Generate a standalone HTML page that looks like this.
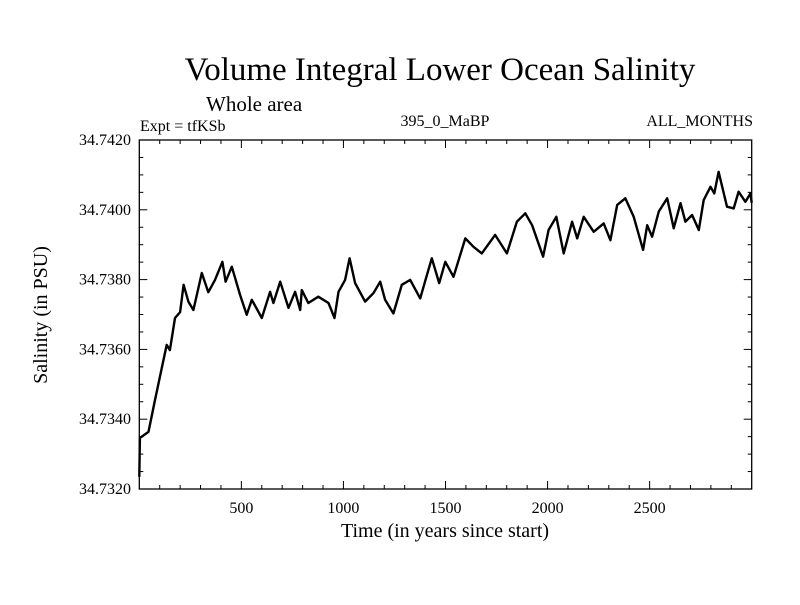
<!DOCTYPE html>
<html><head><meta charset="utf-8"><style>
body{margin:0;background:#fff}
svg text{font-family:"Liberation Serif",serif;fill:#000}
</style></head><body>
<svg id="chart" width="800" height="600" xmlns="http://www.w3.org/2000/svg">
<rect width="800" height="600" fill="#fff"/>
<text x="440" y="80" font-size="33" text-anchor="middle">Volume Integral Lower Ocean Salinity</text>
<text x="206" y="111" font-size="21">Whole area</text>
<text x="140" y="131" font-size="16">Expt = tfKSb</text>
<text x="445" y="126" font-size="16" text-anchor="middle">395_0_MaBP</text>
<text x="753" y="126" font-size="16" text-anchor="end">ALL_MONTHS</text>
<text x="445" y="537" font-size="20" text-anchor="middle">Time (in years since start)</text>
<text transform="translate(47,315) rotate(-90)" font-size="20" text-anchor="middle">Salinity (in PSU)</text>
<g id="axes"></g>
<path id="series" fill="none" stroke="#000" stroke-width="2.4" stroke-linejoin="round"/>
<rect x="139.3" y="140" width="612.4" height="349" fill="none" stroke="#000" stroke-width="1.3"/>
</svg>
<script>
const years=[0,3,45,77,110,134,150,175,200,217,241,265,306,338,371,407,423,453,494,526,551,600,641,657,690,731,763,788,796,828,877,927,956,976,1008,1030,1057,1106,1147,1180,1204,1245,1286,1327,1376,1409,1433,1469,1499,1539,1597,1637,1678,1743,1801,1850,1891,1924,1978,2005,2043,2079,2120,2145,2177,2226,2275,2308,2341,2381,2422,2468,2488,2512,2545,2586,2618,2651,2675,2708,2741,2765,2798,2817,2838,2879,2912,2936,2969,2994,3000];
const salinity=[34.73235,34.73346,34.73364,34.73455,34.73547,34.73613,34.73598,34.73690,34.73707,34.73785,34.73736,34.73713,34.73819,34.73764,34.73799,34.73851,34.73794,34.73837,34.73756,34.73699,34.73742,34.73690,34.73765,34.73733,34.73794,34.73719,34.73765,34.73713,34.73770,34.73733,34.73751,34.73733,34.73690,34.73765,34.73799,34.73861,34.73790,34.73737,34.73761,34.73794,34.73742,34.73703,34.73785,34.73799,34.73746,34.73813,34.73861,34.73790,34.73851,34.73808,34.73918,34.73894,34.73875,34.73928,34.73875,34.73966,34.73990,34.73956,34.73866,34.73942,34.73980,34.73875,34.73966,34.73918,34.73980,34.73937,34.73961,34.73913,34.74014,34.74033,34.73980,34.73885,34.73956,34.73923,34.73995,34.74033,34.73947,34.74019,34.73966,34.73985,34.73942,34.74028,34.74066,34.74047,34.74109,34.74009,34.74004,34.74052,34.74023,34.74047,34.74020];
const xTickLabels=[500,1000,1500,2000,2500];
const yTickLabels=["34.7320","34.7340","34.7360","34.7380","34.7400","34.7420"];
const X0=139.3,X1=751.7,Y0=489,Y1=140,XMIN=0,XMAX=3000,YMIN=34.732,YMAX=34.742;
const sx=v=>X0+(v-XMIN)/(XMAX-XMIN)*(X1-X0);
const sy=v=>Y0-(v-YMIN)/(YMAX-YMIN)*(Y0-Y1);
const NS="http://www.w3.org/2000/svg",ax=document.getElementById('axes');
function ln(x1,y1,x2,y2,name){const l=document.createElementNS(NS,'line');l.setAttribute('x1',x1);l.setAttribute('y1',y1);l.setAttribute('x2',x2);l.setAttribute('y2',y2);l.setAttribute('stroke','#000');l.setAttribute('stroke-width','1');


ax.appendChild(l);}
function tx(x,y,s,anchor,name){const t=document.createElementNS(NS,'text');t.setAttribute('x',x);t.setAttribute('y',y);t.setAttribute('font-size','16');t.setAttribute('text-anchor',anchor);t.textContent=s;


ax.appendChild(t);}
for(let v=100;v<XMAX;v+=100){const x=sx(v),len=v%500===0?8:4;ln(x,Y0,x,Y0-len,'x-tick');ln(x,Y1,x,Y1+len,'x-tick-top');}
xTickLabels.forEach(v=>tx(sx(v),513,String(v),'middle','x-tick-label'));
for(let i=0;i<=20;i++){const v=YMIN+i*0.0005,y=sy(v),len=i%4===0?8:4;ln(X0,y,X0+len,y,'y-tick');ln(X1,y,X1-len,y,'y-tick-right');}
yTickLabels.forEach(s=>tx(131,sy(parseFloat(s))+5,s,'end','y-tick-label'));
document.getElementById('series').setAttribute('d',years.map((y,i)=>(i?'L':'M')+sx(y).toFixed(1)+' '+sy(salinity[i]).toFixed(1)).join(' '));
</script>
</body></html>
